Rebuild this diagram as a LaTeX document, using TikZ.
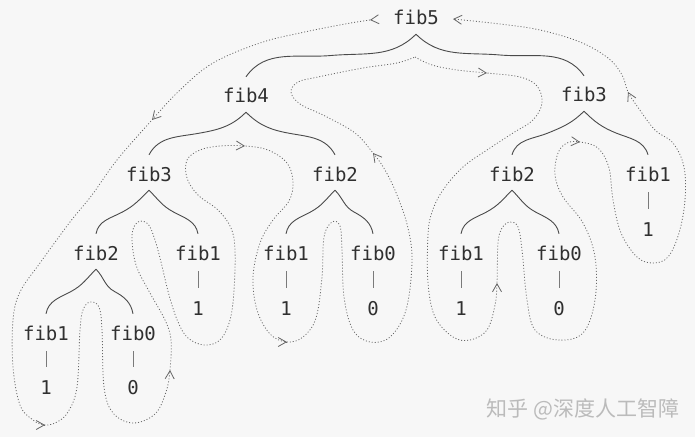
\documentclass[tikz,border=0pt]{standalone}
\usepackage{fontspec}
\newfontfamily\monof{DejaVu Sans Mono}
\newfontfamily\cjkf{Noto Sans CJK SC}
\usetikzlibrary{arrows.meta,calc}
\definecolor{bgc}{HTML}{F7F7F7}
\definecolor{txt}{HTML}{303030}
\definecolor{brc}{HTML}{4A4A4A}
\definecolor{barc}{HTML}{7A7A7A}
\definecolor{dotc}{HTML}{666666}
\definecolor{wmc}{HTML}{BBBBBB}
% #1 parent, #2 child, #3 slope at middle, #4 arrival angle
\newcommand\branchL[4]{\pgfmathsetmacro\bmA{180+#3}\draw[branch] ([yshift=-9pt]#1.south) to[out=-135,in=#3] ($([yshift=-9pt]#1.south)!0.5!([yshift=12pt]#2.north)$) to[out=\bmA,in=#4] ([yshift=12pt]#2.north);}
\newcommand\branchR[4]{\pgfmathsetmacro\bmA{180-#3}\pgfmathsetmacro\bmB{-#3}\pgfmathsetmacro\bmC{180-#4}\draw[branch] ([yshift=-9pt]#1.south) to[out=-45,in=\bmA] ($([yshift=-9pt]#1.south)!0.5!([yshift=12pt]#2.north)$) to[out=\bmB,in=\bmC] ([yshift=12pt]#2.north);}
\newcommand\tipat[3]{\draw[tipst] ($(#1,#2)+(#3+180:1pt)$) -- (#1,#2);}
\begin{document}
\begin{tikzpicture}[x=1pt,y=1pt,
  lbl/.style={font=\monof\fontsize{19}{22}\selectfont, text=txt, inner sep=0pt, text height=14pt, text depth=0pt},
  branch/.style={draw=brc, line width=0.9pt},
  bar/.style={draw=barc, line width=0.9pt, shorten <=11pt, shorten >=13pt},
  tour/.style={draw=dotc, line width=0.8pt, dash pattern=on 1pt off 2pt},
  tipst/.style={draw=dotc, line width=0.8pt, solid, -{Straight Barb[length=8pt,width=9pt]}}]
\fill[bgc] (0,0) rectangle (695,437);
\useasboundingbox (0,0) rectangle (695,437);

% nodes
\node[lbl] (f5) at (416,419) {fib5};
\node[lbl] (f4) at (246,341) {fib4};
\node[lbl] (f3r) at (584,342) {fib3};
\node[lbl] (f3l) at (149,263) {fib3};
\node[lbl] (f2m) at (335,263) {fib2};
\node[lbl] (f2r) at (512,263) {fib2};
\node[lbl] (f1r) at (648,263) {fib1};
\node[lbl] (v1r) at (648,208) {1};
\node[lbl] (f2l) at (96,184) {fib2};
\node[lbl] (f1l) at (198,184) {fib1};
\node[lbl] (v1l) at (198,129) {1};
\node[lbl] (f1m) at (286,184) {fib1};
\node[lbl] (v1m) at (286,129) {1};
\node[lbl] (f0m) at (373,184) {fib0};
\node[lbl] (v0m) at (373,129) {0};
\node[lbl] (f1q) at (461,184) {fib1};
\node[lbl] (v1q) at (461,129) {1};
\node[lbl] (f0q) at (559,184) {fib0};
\node[lbl] (v0q) at (559,129) {0};
\node[lbl] (f1b) at (46,104) {fib1};
\node[lbl] (v1b) at (46,50) {1};
\node[lbl] (f0b) at (133,104) {fib0};
\node[lbl] (v0b) at (133,50) {0};

% branches
\branchL{f5}{f4}{5}{55} \branchR{f5}{f3r}{5}{55}
\branchL{f4}{f3l}{10}{62} \branchR{f4}{f2m}{10}{62}
\branchL{f3r}{f2r}{22}{74} \branchR{f3r}{f1r}{22}{74}
\branchL{f3l}{f2l}{28}{80} \branchR{f3l}{f1l}{28}{80}
\branchL{f2m}{f1m}{28}{80} \branchR{f2m}{f0m}{28}{80}
\branchL{f2r}{f1q}{28}{80} \branchR{f2r}{f0q}{28}{80}
\branchL{f2l}{f1b}{28}{80} \branchR{f2l}{f0b}{28}{80}

% bars
\foreach \a/\b in {f1r/v1r,f1l/v1l,f1m/v1m,f0m/v0m,f1q/v1q,f0q/v0q,f1b/v1b,f0b/v0b}
  \draw[bar] (\a.south) -- (\b.north);

% traversal
\draw[tour] plot[smooth, tension=0.6] coordinates {
(370,417) (345,413) (300,404) (260,394) (213,374) (180,347) (152,317) (117,277)
(92,242) (70,215) (40,174) (20,145) (13,117) (13,70) (20,32) (33,17) (45,12)
(57,15) (68,25) (77,50) (80,107) (83,127) (90,135) (99,130) (102,107) (104,50)
(113,24) (133,14) (155,23) (166,45) (170,67) (171,97) (165,117) (150,144)
(136,172) (132,202) (138,215) (148,213) (155,197) (161,175) (169,142) (178,115)
(188,99) (204,92) (220,97) (230,117) (234,147) (235,187) (231,209) (218,227)
(198,242) (187,259) (187,277) (200,287) (220,291) (245,291) (268,287) (287,274)
(293,255) (289,236) (273,217) (260,194) (253,160) (257,127) (270,103) (287,95)
(303,100) (316,119) (322,160) (324,200) (332,215) (340,211) (342,187) (344,140)
(353,107) (370,95) (390,100) (406,127) (412,175) (408,209) (397,242) (385,267)
(373,284) (355,304) (325,321) (300,333) (291,345) (298,355) (318,360) (363,369)
(397,374) (415,380)};
\draw[tour] plot[smooth, tension=0.6] coordinates {
(415,380) (432,372) (457,367) (487,364) (520,360) (537,351) (542,334) (533,317)
(513,304) (487,287) (463,270) (443,247) (432,225) (428,202) (428,154) (435,120)
(453,100) (470,97) (487,107) (495,132) (497,154) (498,194) (502,209) (510,215)
(518,210) (522,187) (527,137) (535,107) (558,97) (583,104) (595,137) (595,180)
(583,214) (563,240) (555,262) (558,284) (567,294) (580,295) (598,289) (609,269)
(613,237) (621,204) (637,180) (653,174) (668,180) (679,204) (685,237) (684,270)
(673,294) (655,307) (637,331) (628,345) (622,362) (608,379) (580,395) (540,407)
(500,413) (453,418)};

% arrow heads
\tipat{370}{417}{185}
\tipat{152}{317}{228}
\tipat{45}{12}{0}
\tipat{170}{67}{88}
\tipat{245}{291}{-3}
\tipat{287}{95}{0}
\tipat{373}{284}{128}
\tipat{487}{364}{-3}
\tipat{497}{154}{90}
\tipat{580}{295}{-5}
\tipat{628}{345}{116}
\tipat{453}{418}{175}

% watermark
\node[font=\cjkf\fontsize{21}{24}\selectfont, text=wmc, inner sep=0pt] (wm) at (583,28) {知乎 @深度人工智障};
\end{tikzpicture}
\end{document}
